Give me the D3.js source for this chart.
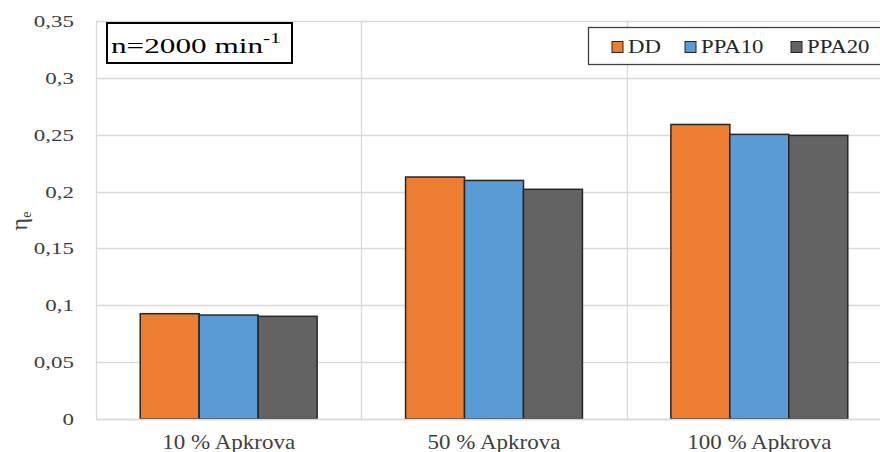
<!DOCTYPE html>
<html>
<head>
<meta charset="utf-8">
<script src="https://cdn.jsdelivr.net/npm/d3@7"></script>
<style>
  body { margin: 0; background: #fff; }
</style>
</head>
<body>
<div id="chart"></div>
<script>
// data
const categories = ['10 % Apkrova', '50 % Apkrova', '100 % Apkrova'];
const seriesNames = ['DD', 'PPA10', 'PPA20'];
const seriesColors = ['#ed7d31', '#5b9bd5', '#636363'];
const valuesDD = [0.0926, 0.2128, 0.2590];
const valuesPPA10 = [0.0914, 0.2098, 0.2503];
const valuesPPA20 = [0.0903, 0.2020, 0.2494];
const yTicks = [0, 0.05, 0.1, 0.15, 0.2, 0.25, 0.3, 0.35];
const yTickLabels = ['0', '0,05', '0,1', '0,15', '0,2', '0,25', '0,3', '0,35'];

const seriesValues = [valuesDD, valuesPPA10, valuesPPA20];
const serif = "'Liberation Serif'";

const width = 880, height = 452;
const margin = { top: 21, right: -12, bottom: 33, left: 96 };

const svg = d3.select('#chart')
  .append('svg')
  .attr('width', width)
  .attr('height', height);

const x = d3.scaleBand()
  .domain(categories)
  .range([margin.left, width - margin.right]);

const xInner = d3.scaleBand()
  .domain(seriesNames)
  .range([0, x.bandwidth()])
  .paddingOuter(0.75)
  .paddingInner(0);

const y = d3.scaleLinear()
  .domain([0, 0.35])
  .range([height - margin.bottom, margin.top]);

// horizontal gridlines
svg.append('g')
  .selectAll('line')
  .data(yTicks)
  .join('line')
    .attr('x1', margin.left)
    .attr('x2', width)
    .attr('y1', d => Math.round(y(d)) + 0.5)
    .attr('y2', d => Math.round(y(d)) + 0.5)
    .attr('stroke', '#d9d9d9')
    .attr('stroke-width', 1.3);

// vertical gridlines at category boundaries
svg.append('g')
  .selectAll('line')
  .data(categories.slice(1))
  .join('line')
    .attr('x1', d => Math.round(x(d)) + 0.5)
    .attr('x2', d => Math.round(x(d)) + 0.5)
    .attr('y1', y(0.35))
    .attr('y2', y(0))
    .attr('stroke', '#d9d9d9')
    .attr('stroke-width', 1.3);

// left axis line
svg.append('line')
  .attr('x1', margin.left + 0.5)
  .attr('x2', margin.left + 0.5)
  .attr('y1', y(0.35))
  .attr('y2', y(0))
  .attr('stroke', '#d9d9d9')
  .attr('stroke-width', 1.3);

// bars
const groups = svg.append('g')
  .selectAll('g')
  .data(categories)
  .join('g')
    .attr('transform', d => `translate(${x(d)},0)`);

groups.selectAll('rect')
  .data((c, ci) => seriesNames.map((s, si) => ({ s, si, v: seriesValues[si][ci] })))
  .join('rect')
    .attr('x', d => xInner(d.s))
    .attr('width', xInner.bandwidth())
    .attr('y', d => y(d.v))
    .attr('height', d => y(0) - y(d.v))
    .attr('fill', d => seriesColors[d.si])
    .attr('stroke', '#262626')
    .attr('stroke-width', 1.5);

// baseline
svg.append('line')
  .attr('x1', margin.left)
  .attr('x2', width)
  .attr('y1', y(0) + 0.5)
  .attr('y2', y(0) + 0.5)
  .attr('stroke', '#d9d9d9')
  .attr('stroke-width', 1.3);

// y tick labels (the reference text is stretched horizontally)
svg.append('g')
  .selectAll('text')
  .data(yTicks)
  .join('text')
    .attr('transform', d => `translate(74,${y(d)}) scale(1.35,1)`)
    .attr('dy', '0.35em')
    .attr('text-anchor', 'end')
    .attr('font-family', serif)
    .attr('fill', '#404040')
    .style('font-size', '17px')
    .text((d, i) => yTickLabels[i]);

// x labels
svg.append('g')
  .selectAll('text')
  .data(categories)
  .join('text')
    .attr('transform', d => `translate(${x(d) + x.bandwidth() / 2},448.5) scale(1.15,1)`)
    .attr('text-anchor', 'middle')
    .attr('font-family', serif)
    .attr('fill', '#404040')
    .style('font-size', '20px')
    .text(d => d);

// y axis title
const yTitle = svg.append('text')
  .attr('transform', 'translate(27,221) rotate(-90)')
  .attr('text-anchor', 'middle')
  .attr('font-family', serif)
  .attr('fill', '#404040')
  .style('font-size', '24px');
yTitle.append('tspan').text('η');
yTitle.append('tspan').attr('dy', 4).style('font-size', '14px').text('e');

// annotation box
svg.append('rect')
  .attr('x', 107)
  .attr('y', 23)
  .attr('width', 185)
  .attr('height', 40)
  .attr('fill', '#fff')
  .attr('stroke', '#000')
  .attr('stroke-width', 2);
const ann = svg.append('text')
  .attr('transform', 'translate(111,53) scale(1.42,1)')
  .attr('font-family', serif)
  .attr('fill', '#000')
  .style('font-size', '22px');
ann.append('tspan').text('n=2000 min');
ann.append('tspan').attr('dy', -10).style('font-size', '15px').text('-1');

// legend
svg.append('rect')
  .attr('x', 588.5)
  .attr('y', 27.5)
  .attr('width', 300)
  .attr('height', 37)
  .attr('fill', '#fff')
  .attr('stroke', '#404040')
  .attr('stroke-width', 1.3);

const legendX = [612, 685, 791];
const legend = svg.append('g')
  .selectAll('g')
  .data(seriesNames)
  .join('g')
    .attr('transform', (d, i) => `translate(${legendX[i]},47)`);
legend.append('rect')
  .attr('x', 0)
  .attr('y', -5.5)
  .attr('width', 11)
  .attr('height', 11)
  .attr('fill', (d, i) => seriesColors[i])
  .attr('stroke', '#262626')
  .attr('stroke-width', 1);
legend.append('text')
  .attr('transform', 'translate(16,6) scale(1.2,1)')
  .attr('font-family', serif)
  .attr('fill', '#262626')
  .style('font-size', '19px')
  .text(d => d);
</script>
</body>
</html>
